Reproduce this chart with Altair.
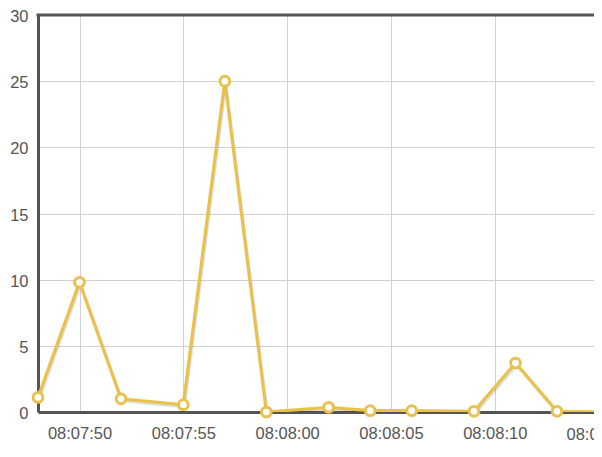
import altair as alt
import pandas as pd

times = ["08:07:48", "08:07:50", "08:07:52", "08:07:55", "08:07:57", "08:07:59",
         "08:08:02", "08:08:04", "08:08:06", "08:08:09", "08:08:11", "08:08:13", "08:08:16"]
values = [1.1, 9.8, 1.0, 0.55, 25.0, 0.0, 0.35, 0.1, 0.1, 0.05, 3.7, 0.05, 0.0]
tick_seconds = [(7, 50), (7, 55), (8, 0), (8, 5), (8, 10)]
edge_tick = (8, 15)

df = pd.DataFrame({"t": ["2024-01-01T" + s for s in times], "v": values})

YELLOW = "#E8C14E"
AXIS = "#555555"
FONT = "Liberation Sans"
LABEL_SIZE = 16.5


def dt(m, s, ms=0):
    return alt.DateTime(year=2024, month=1, date=1, hours=8, minutes=m, seconds=s, milliseconds=ms)


xdom = [dt(7, 48), dt(8, 14, 780)]

x = alt.X("t:T", scale=alt.Scale(domain=xdom),
          axis=alt.Axis(format="%H:%M:%S", title=None,
                        values=[dt(m, s) for m, s in tick_seconds],
                        grid=True, gridColor="#d0d0d0", gridWidth=1,
                        domainColor=AXIS, domainWidth=3, ticks=False,
                        labelFont=FONT, labelFontSize=LABEL_SIZE, labelColor="#555",
                        labelPadding=13, labelFlush=False, labelOverlap=False))
y = alt.Y("v:Q", scale=alt.Scale(domain=[0, 30], nice=False),
          axis=alt.Axis(values=[0, 5, 10, 15, 20, 25, 30], title=None,
                        grid=True, gridColor="#d0d0d0", gridWidth=1,
                        domainColor=AXIS, domainWidth=3, ticks=False,
                        labelFont=FONT, labelFontSize=LABEL_SIZE, labelColor="#555",
                        labelPadding=10, labelFlush=False, labelOffset=1.5))

shadow = alt.Chart(df).mark_line(color="#000000", opacity=0.13, strokeWidth=3, clip=True,
                                 xOffset=1, yOffset=2).encode(x=x, y=y)
line = alt.Chart(df).mark_line(color=YELLOW, strokeWidth=3.2, clip=True).encode(x=x, y=y)
pts = alt.Chart(df.iloc[:-1]).mark_point(shape="circle", filled=True, fill="white", stroke=YELLOW,
                                         strokeWidth=3, size=95, opacity=1).encode(x=x, y=y)

top = alt.Chart(pd.DataFrame({"a": [0]})).mark_rule(color=AXIS, strokeWidth=3).encode(
    x=alt.value(-1.5), x2=alt.value(600), y=alt.value(0))

edge_df = pd.DataFrame({"t": ["2024-01-01T%02d:%02d:%02d" % (8, edge_tick[0], edge_tick[1])]})
edge_label = alt.Chart(edge_df).mark_text(
    font=FONT, fontSize=LABEL_SIZE, color="#555", baseline="top", align="center"
).encode(
    x=alt.X("t:T", scale=alt.Scale(domain=xdom)),
    y=alt.value(397 + 14.5),
    text=alt.Text("t:T", format="%H:%M:%S"),
)

chart = alt.layer(shadow, line, top, pts, edge_label).properties(
    width=556, height=397,
    autosize=alt.AutoSizeParams(type="none"),
    padding={"left": 30, "top": 7, "right": 0, "bottom": 30},
).configure_view(stroke=None)

chart.save("out.html", embed_options={"renderer": "svg", "actions": False})
